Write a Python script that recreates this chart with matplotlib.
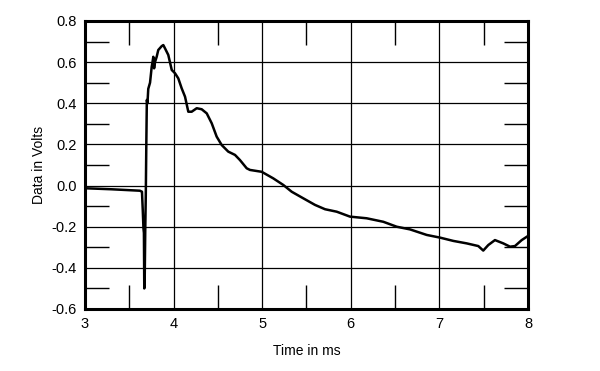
import matplotlib
matplotlib.use("Agg")
import matplotlib.pyplot as plt
from matplotlib.ticker import MultipleLocator

time_ms = [3.0, 3.3, 3.62, 3.643, 3.652, 3.660, 3.665, 3.669, 3.674, 3.680, 3.686,
           3.692, 3.698, 3.705, 3.714, 3.734, 3.753, 3.762, 3.771, 3.780, 3.790,
           3.809, 3.827, 3.866, 3.884, 3.903, 3.940, 3.979, 4.016, 4.053, 4.091,
           4.129, 4.166, 4.204, 4.261, 4.317, 4.374, 4.430, 4.486, 4.543, 4.617,
           4.693, 4.749, 4.825, 4.862, 4.994, 5.125, 5.238, 5.333, 5.464, 5.596,
           5.709, 5.841, 5.991, 6.179, 6.367, 6.518, 6.668, 6.857, 7.007, 7.157,
           7.308, 7.439, 7.495, 7.552, 7.627, 7.721, 7.797, 7.853, 7.929, 8.0]
volts = [-0.013, -0.018, -0.025, -0.03, -0.12, -0.21, -0.23, -0.50, -0.45, -0.22, -0.05,
         0.20, 0.416, 0.40, 0.47, 0.50, 0.578, 0.60, 0.626, 0.57, 0.60,
         0.626, 0.659, 0.678, 0.683, 0.667, 0.635, 0.562, 0.546, 0.521, 0.473,
         0.432, 0.359, 0.359, 0.376, 0.371, 0.351, 0.303, 0.238, 0.197, 0.165,
         0.149, 0.124, 0.084, 0.076, 0.067, 0.035, 0.003, -0.030, -0.062, -0.094,
         -0.115, -0.127, -0.151, -0.159, -0.176, -0.200, -0.213, -0.240, -0.253, -0.269,
         -0.281, -0.294, -0.316, -0.289, -0.265, -0.281, -0.297, -0.294, -0.265, -0.245]

x_ticks = [3, 4, 5, 6, 7, 8]
y_ticks = [0.8, 0.6, 0.4, 0.2, 0.0, -0.2, -0.4, -0.6]
y_tick_labels = ["0.8", "0.6", "0.4", "0.2", "0.0", "-0.2", "-0.4", "-0.6"]

plt.rcParams['font.family'] = ['Liberation Sans', 'DejaVu Sans']

fig = plt.figure(figsize=(6, 3.71), dpi=100)
ax = fig.add_axes([85/600, 1-309/371, (528-85)/600, (309-21)/371])

ax.plot(time_ms, volts, color='black', lw=1.8, zorder=3)

ax.set_xlim(3, 8)
ax.set_ylim(-0.6, 0.8)
ax.set_xticks(x_ticks)
ax.set_yticks(y_ticks)
ax.set_yticklabels(y_tick_labels)
ax.xaxis.set_minor_locator(MultipleLocator(0.5))
ax.yaxis.set_minor_locator(MultipleLocator(0.1))

ax.grid(True, which='major', color='black', lw=0.9)
ax.tick_params(which='major', length=0, labelsize=10.5, pad=6)
ax.tick_params(which='minor', direction='in', length=17, width=1,
               top=True, bottom=True, left=True, right=True)

for s in ax.spines.values():
    s.set_linewidth(2.2)

ax.set_xlabel("Time in ms", fontsize=10, labelpad=9)
ax.set_ylabel("Data in Volts", fontsize=10, labelpad=4)

fig.savefig("out.png", dpi=100)
